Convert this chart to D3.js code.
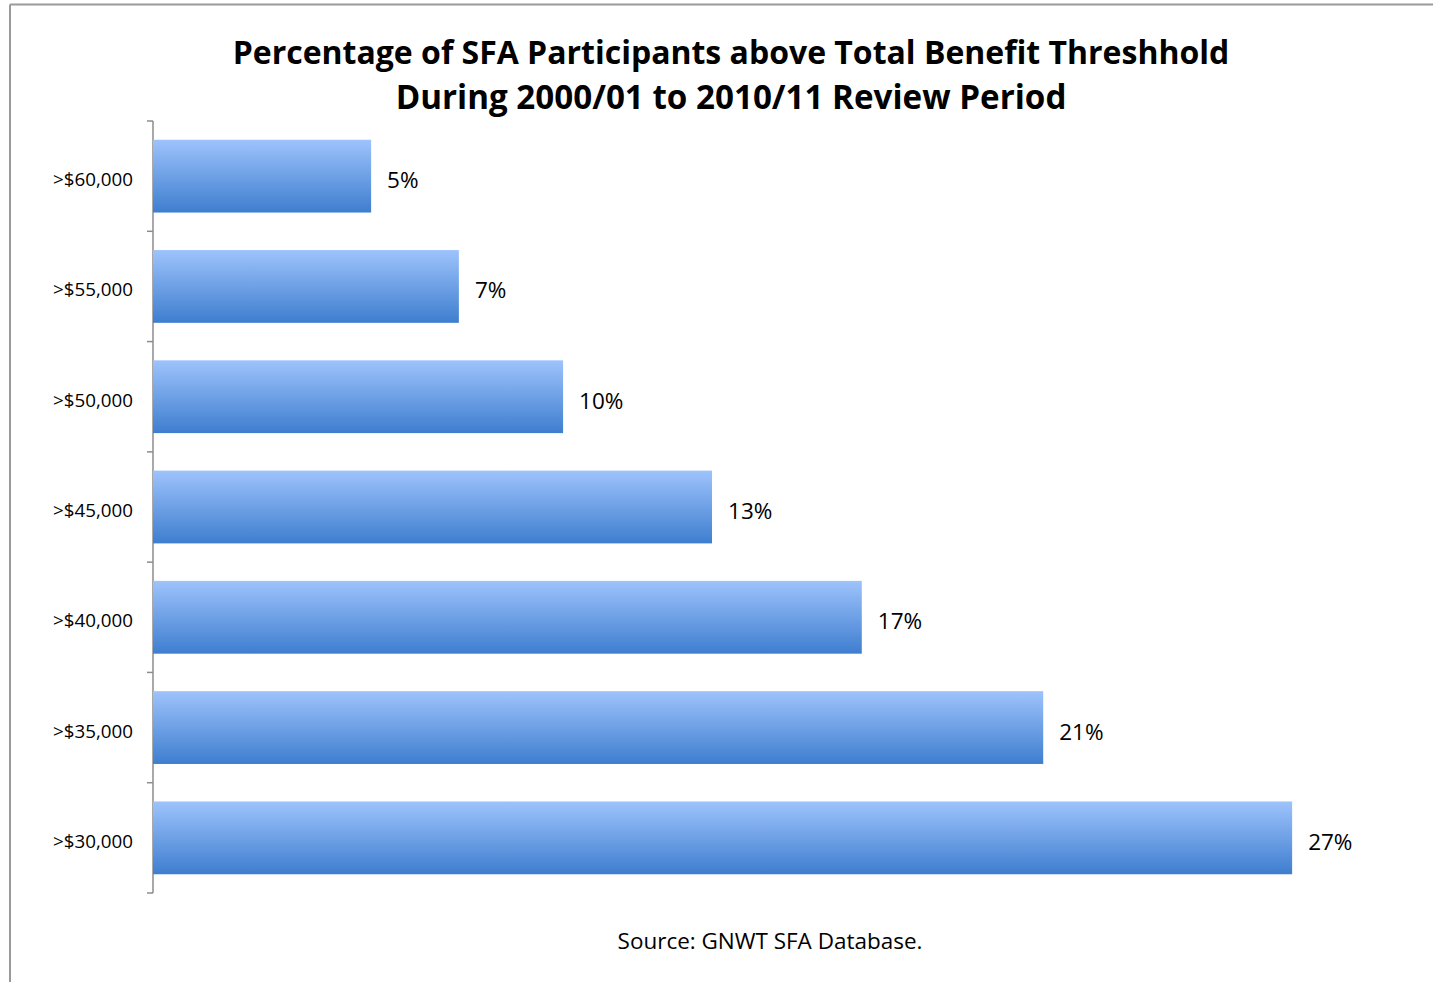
<!DOCTYPE html>
<html>
<head>
<meta charset="utf-8">
<script src="https://cdn.jsdelivr.net/npm/d3@7"></script>
<style>
  html, body { margin: 0; padding: 0; background: #ffffff; }
  svg { display: block; }
  text { font-family: "Open Sans", "Noto Sans", sans-serif; fill: #000; }
</style>
</head>
<body>
<script>
// ---- data ----
const categories = [">$60,000", ">$55,000", ">$50,000", ">$45,000", ">$40,000", ">$35,000", ">$30,000"];
const values = [5.17, 7.25, 9.72, 13.25, 16.8, 21.1, 27.0];
const valueLabels = ["5%", "7%", "10%", "13%", "17%", "21%", "27%"];
const titleLines = ["Percentage of SFA Participants above Total Benefit Threshhold", "During 2000/01 to 2010/11 Review Period"];
const sourceText = "Source: GNWT SFA Database.";

const W = 1433, H = 982;
const svg = d3.select("body").append("svg").attr("width", W).attr("height", H);

// gradient
const defs = svg.append("defs");
const grad = defs.append("linearGradient").attr("id", "barGrad")
  .attr("x1", 0).attr("y1", 0).attr("x2", 0).attr("y2", 1);
grad.append("stop").attr("offset", "0%").attr("stop-color", "#9ec3fc");
grad.append("stop").attr("offset", "100%").attr("stop-color", "#3e7ecf");

// frame border (top and left)
svg.append("line").attr("x1", 10).attr("x2", W).attr("y1", 4.5).attr("y2", 4.5)
  .attr("stroke", "#9a9a9a").attr("stroke-width", 2);
svg.append("line").attr("x1", 10).attr("x2", 10).attr("y1", 4.5).attr("y2", H)
  .attr("stroke", "#9a9a9a").attr("stroke-width", 2);

function fit(sel, target) {
  const w = sel.node().getComputedTextLength();
  const fs = parseFloat(sel.attr("font-size"));
  sel.attr("font-size", fs * target / w);
}

// title
const t1 = svg.append("text").attr("x", 731).attr("y", 64).attr("text-anchor", "middle")
  .attr("font-weight", "bold").attr("font-size", 30).text(titleLines[0]);
fit(t1, 997);
const t2 = svg.append("text").attr("x", 731).attr("y", 109).attr("text-anchor", "middle")
  .attr("font-weight", "bold").attr("font-size", 30).text(titleLines[1]);
fit(t2, 671);

// scales
const x = d3.scaleLinear().domain([0, 30]).range([153, 153 + 30 * 42.19]);
const y = d3.scaleBand().domain(categories).range([121, 893]).paddingInner(0.34).paddingOuter(0.17);

// axis line and boundary ticks between categories (Excel-style)
const bounds = d3.range(categories.length + 1).map(i => 121 + i * (893 - 121) / categories.length);
svg.append("line").attr("x1", 153).attr("x2", 153).attr("y1", 121).attr("y2", 893)
  .attr("stroke", "#8c8c8c").attr("stroke-width", 1.5);
svg.selectAll(".btick").data(bounds).enter().append("line")
  .attr("x1", 147).attr("x2", 153).attr("y1", d => d).attr("y2", d => d)
  .attr("stroke", "#8c8c8c").attr("stroke-width", 1.5);

// category labels
const cats = svg.selectAll(".cat").data(categories).enter().append("text")
  .attr("x", 133).attr("y", d => y(d) + y.bandwidth() / 2 + 10)
  .attr("text-anchor", "end").attr("font-size", 17).text(d => d);
cats.each(function() { fit(d3.select(this), 80); });

// bars
svg.selectAll(".bar").data(values).enter().append("rect")
  .attr("x", x(0)).attr("y", (d, i) => y(categories[i]))
  .attr("width", d => x(d) - x(0)).attr("height", y.bandwidth())
  .attr("fill", "url(#barGrad)");

// value labels
svg.selectAll(".val").data(values).enter().append("text")
  .attr("x", d => x(d) + 16).attr("y", (d, i) => y(categories[i]) + y.bandwidth() / 2 + 12)
  .attr("font-size", 22.5).text((d, i) => valueLabels[i]);

// source
const s = svg.append("text").attr("x", 770).attr("y", 949).attr("text-anchor", "middle")
  .attr("font-size", 20).text(sourceText);
fit(s, 305);
</script>
</body>
</html>
